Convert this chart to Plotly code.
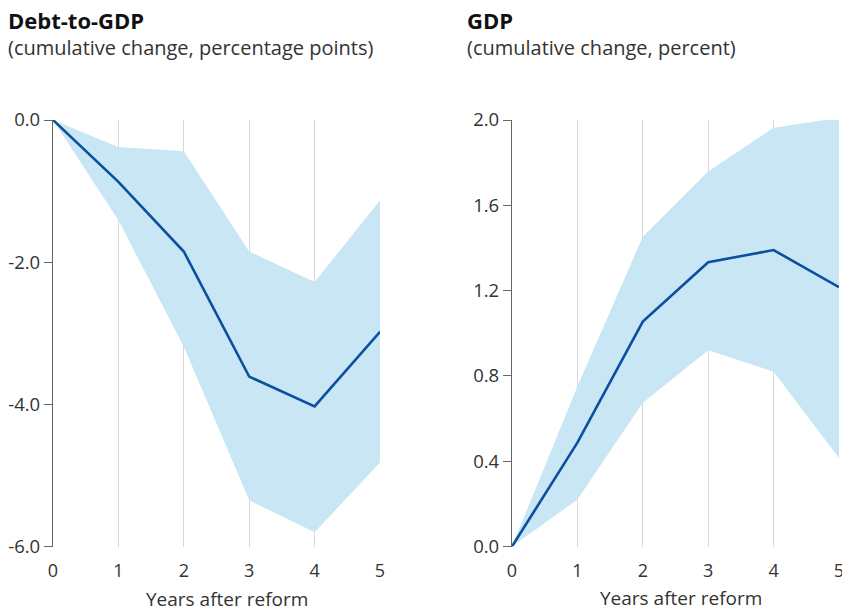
import plotly.graph_objects as go

# Years after the reform
years = [0, 1, 2, 3, 4, 5]

# Debt-to-GDP response (percentage points) with confidence band
debt_mid = [0.0, -0.87, -1.85, -3.61, -4.03, -2.98]
debt_hi = [0.0, -0.38, -0.44, -1.85, -2.28, -1.13]
debt_lo = [0.0, -1.41, -3.19, -5.35, -5.80, -4.82]

# GDP response (percent) with confidence band
gdp_mid = [0.0, 0.487, 1.055, 1.333, 1.39, 1.216]
gdp_hi = [0.0, 0.75, 1.453, 1.758, 1.964, 2.01]
gdp_lo = [0.0, 0.22, 0.674, 0.92, 0.82, 0.415]

debt_ticks = [0, -2, -4, -6]
debt_ticktext = ["0.0", "-2.0", "-4.0", "-6.0"]
gdp_ticks = [0.0, 0.4, 0.8, 1.2, 1.6, 2.0]
gdp_ticktext = ["0.0", "0.4", "0.8", "1.2", "1.6", "2.0"]

BAND = "#c9e6f5"
LINE = "#0b4f9e"
FONT = "Open Sans"
TXT = "#333333"

fig = go.Figure()


def add_panel(mid, lo, hi, xa, ya):
    fig.add_trace(go.Scatter(x=years, y=hi, mode="lines", line=dict(width=0),
                             hoverinfo="skip", showlegend=False, xaxis=xa, yaxis=ya))
    fig.add_trace(go.Scatter(x=years, y=lo, mode="lines", line=dict(width=0),
                             fill="tonexty", fillcolor=BAND,
                             hoverinfo="skip", showlegend=False, xaxis=xa, yaxis=ya))
    fig.add_trace(go.Scatter(x=years, y=mid, mode="lines",
                             line=dict(color=LINE, width=2.6),
                             showlegend=False, xaxis=xa, yaxis=ya))


add_panel(debt_mid, debt_lo, debt_hi, "x", "y")
add_panel(gdp_mid, gdp_lo, gdp_hi, "x2", "y2")

H = 611
W = 842
ydom = [(H - 546.5) / H, (H - 120) / H]

xcommon = dict(range=[0, 5], tickvals=years, showgrid=True, gridcolor="#d9d9d9",
               gridwidth=1, zeroline=False, showline=False, ticks="", automargin=False,
               ticklabelstandoff=11, ticklabeloverflow="allow",
               tickfont=dict(family=FONT, size=18, color=TXT), fixedrange=True)
ycommon = dict(showgrid=False, zeroline=False, showline=True, linecolor="#666666",
               linewidth=1.2, ticks="outside", ticklen=8, tickcolor="#666666",
               automargin=False, tickmode="array",
               tickfont=dict(family=FONT, size=18.5, color=TXT),
               layer="above traces")


def panel_heading(title, subtitle):
    return ("<span style='font-size:22px;color:#111111'><b>" + title + "</b></span>"
            "<br>" + subtitle)


fig.update_layout(
    width=W, height=H,
    margin=dict(l=0, r=0, t=0, b=0, autoexpand=False),
    paper_bgcolor="white", plot_bgcolor="white",
    xaxis=dict(domain=[53 / W, 380 / W], anchor="y", **xcommon),
    yaxis=dict(domain=ydom, anchor="x", range=[-6, 0], tickvals=debt_ticks,
               ticktext=debt_ticktext, **ycommon),
    xaxis2=dict(domain=[512 / W, 839 / W], anchor="y2", **xcommon),
    yaxis2=dict(domain=ydom, anchor="x2", range=[0, 2], tickvals=gdp_ticks,
                ticktext=gdp_ticktext, **ycommon),
    annotations=[
        dict(text=panel_heading("Debt-to-GDP", "(cumulative change, percentage points)"),
             x=6 / W, y=1 - 3 / H, xref="paper", yref="paper", align="left",
             xanchor="left", yanchor="top", showarrow=False,
             font=dict(family=FONT, size=20, color=TXT)),
        dict(text=panel_heading("GDP", "(cumulative change, percent)"),
             x=465 / W, y=1 - 3 / H, xref="paper", yref="paper", align="left",
             xanchor="left", yanchor="top", showarrow=False,
             font=dict(family=FONT, size=20, color=TXT)),
        dict(text="Years after reform", x=227 / W, y=1 - 599 / H, xref="paper", yref="paper",
             xanchor="center", yanchor="middle", showarrow=False,
             font=dict(family=FONT, size=19, color=TXT)),
        dict(text="Years after reform", x=681 / W, y=1 - 598 / H, xref="paper", yref="paper",
             xanchor="center", yanchor="middle", showarrow=False,
             font=dict(family=FONT, size=19, color=TXT)),
    ],
)

fig.write_html("out.html")
